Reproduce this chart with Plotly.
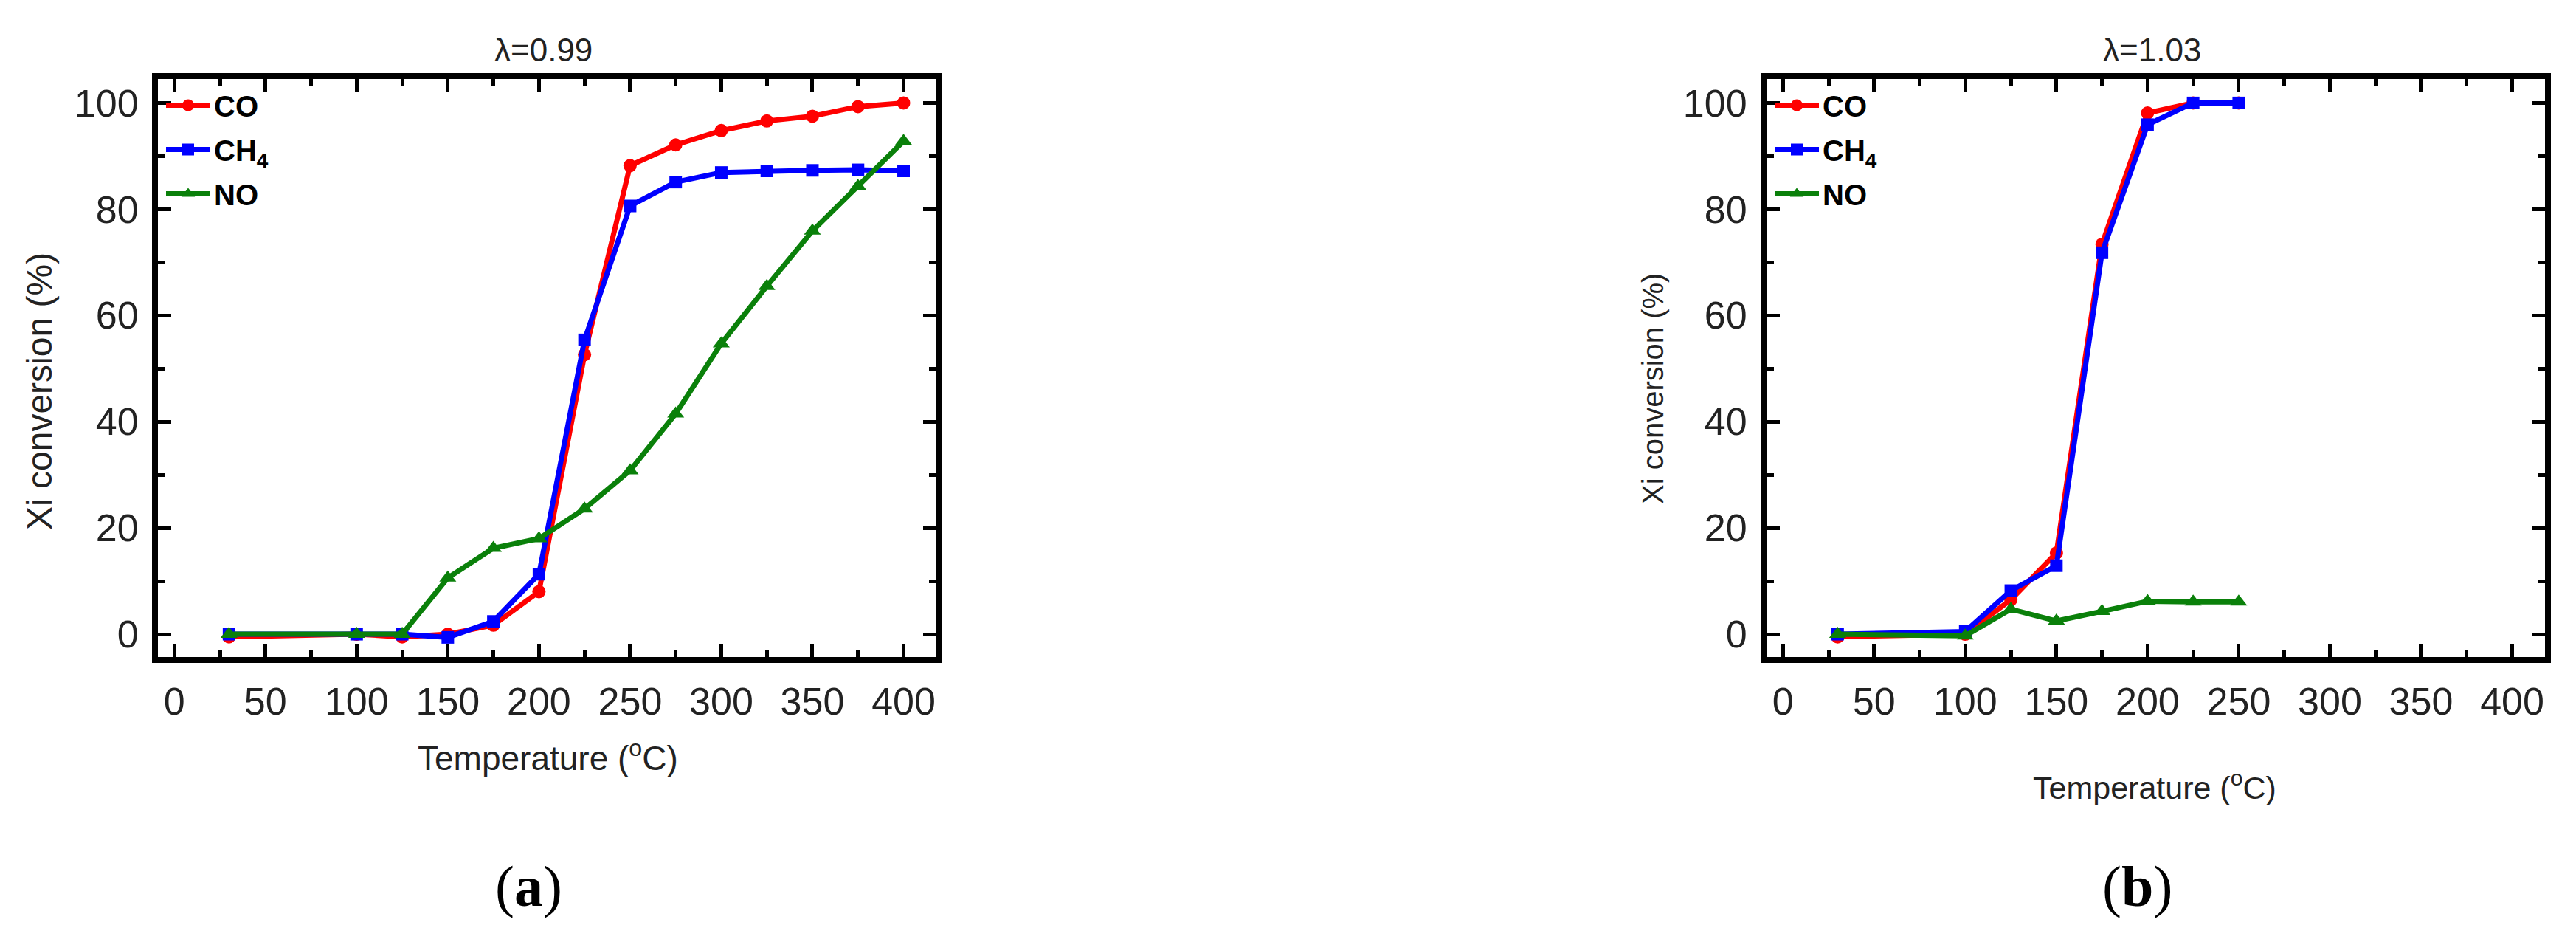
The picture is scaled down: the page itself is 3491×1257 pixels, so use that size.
import plotly.graph_objects as go

# ---- data ----
temp_a = [30, 100, 125, 150, 175, 200, 225, 250, 275, 300, 325, 350, 375, 400]
co_a = [-0.5, 0, -0.5, 0, 1.7, 8.0, 52.6, 88.2, 92.1, 94.8, 96.6, 97.5, 99.3, 100.0]
ch4_a = [0, 0, 0, -0.6, 2.4, 11.3, 55.4, 80.6, 85.1, 86.9, 87.2, 87.3, 87.4, 87.2]
no_a = [0, 0, 0, 10.6, 16.2, 18.0, 23.6, 30.8, 41.5, 54.7, 65.5, 75.9, 84.3, 92.8]

temp_b = [30, 100, 125, 150, 175, 200, 225, 250]
co_b = [-0.5, 0, 6.5, 15.3, 73.4, 98.1, 100.0, 100.0]
ch4_b = [0, 0.5, 8.2, 12.9, 71.8, 95.9, 100.0, 100.0]
no_b = [0, -0.3, 4.7, 2.5, 4.3, 6.2, 6.1, 6.1]

series_names = ["CO", "CH<sub>4</sub>", "NO"]
titles = ["λ=0.99", "λ=1.03"]
panel_labels = ["(<b>a</b>)", "(<b>b</b>)"]
x_ticks = [0, 50, 100, 150, 200, 250, 300, 350, 400]
y_ticks = [0, 20, 40, 60, 80, 100]

colors = ["#ff0000", "#0000ff", "#0a800a"]
symbols = ["circle", "square", "triangle-up"]
msizes = [18, 17, 20]

W, H = 3491, 1257
FONT = "Arial, Liberation Sans, sans-serif"

fig = go.Figure()

panels = [
    (temp_a, [co_a, ch4_a, no_a], "x", "y", "legend", "a"),
    (temp_b, [co_b, ch4_b, no_b], "x2", "y2", "legend2", "b"),
]
for temps, ys, xa, ya, leg, tag in panels:
    for i, yv in enumerate(ys):
        fig.add_trace(go.Scatter(
            x=temps, y=yv, mode="lines+markers", name=series_names[i],
            xaxis=xa, yaxis=ya, legend=leg, legendgroup=f"{tag}{i}",
            line=dict(color=colors[i], width=7),
            marker=dict(symbol=symbols[i], size=msizes[i], color=colors[i]),
        ))

def px_x(p):
    return p / W

def px_y(p):
    return 1 - p / H

dom_y = [px_y(882), px_y(99)]
dom_xa = [px_x(206), px_x(1261)]
dom_xb = [px_x(2386), px_x(3441)]

axis_common = dict(
    showline=True, linecolor="black", linewidth=8, mirror="ticks",
    ticks="inside", ticklen=18, tickwidth=5, tickcolor="black",
    showgrid=False, zeroline=False,
    tickfont=dict(family=FONT, size=52, color="#222222"),
    ticklabelstandoff=8,
)

xcommon = dict(axis_common, range=[-9, 418], tickmode="array", tickvals=x_ticks,
               minor=dict(ticks="inside", ticklen=10, tickwidth=5, tickcolor="black", dtick=25, tick0=0))
ycommon = dict(axis_common, range=[-4.3, 104.5], tickmode="array", tickvals=y_ticks,
               minor=dict(ticks="inside", ticklen=10, tickwidth=5, tickcolor="black", dtick=10, tick0=0))

legend_common = dict(xanchor="left", yanchor="top", bgcolor="rgba(0,0,0,0)",
                     font=dict(family=FONT, size=40, color="black", weight="bold"),
                     itemwidth=60, tracegroupgap=5)

fig.update_layout(
    width=W, height=H,
    margin=dict(l=0, r=0, t=0, b=0),
    paper_bgcolor="white", plot_bgcolor="white",
    xaxis=dict(xcommon, domain=dom_xa, anchor="y"),
    yaxis=dict(ycommon, domain=dom_y, anchor="x"),
    xaxis2=dict(xcommon, domain=dom_xb, anchor="y2"),
    yaxis2=dict(ycommon, domain=dom_y, anchor="x2"),
    legend=dict(legend_common, x=px_x(212), y=px_y(102)),
    legend2=dict(legend_common, x=px_x(2392), y=px_y(102)),
    showlegend=True,
)

ann = []
centers = [(206 + 1261) / 2, (2386 + 3441) / 2]
for k, c in enumerate(centers):
    ann.append(dict(text=titles[k], x=px_x(c - 5), y=px_y(60), xref="paper", yref="paper",
                    showarrow=False, font=dict(family=FONT, size=44, color="#222222"),
                    xanchor="center", yanchor="middle"))
# x axis titles
ann.append(dict(text="Temperature (<sup>o</sup>C)", x=px_x(734), y=px_y(1016), xref="paper", yref="paper",
                showarrow=False, font=dict(family=FONT, size=46, color="#222222"),
                xanchor="center", yanchor="middle"))
ann.append(dict(text="Temperature (<sup>o</sup>C)", x=px_x(2912), y=px_y(1056), xref="paper", yref="paper",
                showarrow=False, font=dict(family=FONT, size=43, color="#222222"),
                xanchor="center", yanchor="middle"))
# y axis titles
ann.append(dict(text="Xi conversion (%)", x=px_x(45), y=px_y(522), xref="paper", yref="paper",
                showarrow=False, textangle=-90, font=dict(family=FONT, size=48, color="#222222"),
                xanchor="center", yanchor="middle"))
ann.append(dict(text="Xi conversion (%)", x=px_x(2232), y=px_y(519), xref="paper", yref="paper",
                showarrow=False, textangle=-90, font=dict(family=FONT, size=40, color="#222222"),
                xanchor="center", yanchor="middle"))
# panel labels
ann.append(dict(text=panel_labels[0], x=px_x(708), y=px_y(1192), xref="paper", yref="paper",
                showarrow=False, font=dict(family="Liberation Serif, Times New Roman, serif", size=78, color="black"),
                xanchor="center", yanchor="middle"))
ann.append(dict(text=panel_labels[1], x=px_x(2888), y=px_y(1192), xref="paper", yref="paper",
                showarrow=False, font=dict(family="Liberation Serif, Times New Roman, serif", size=78, color="black"),
                xanchor="center", yanchor="middle"))
fig.update_layout(annotations=ann)

fig.write_html("out.html")
